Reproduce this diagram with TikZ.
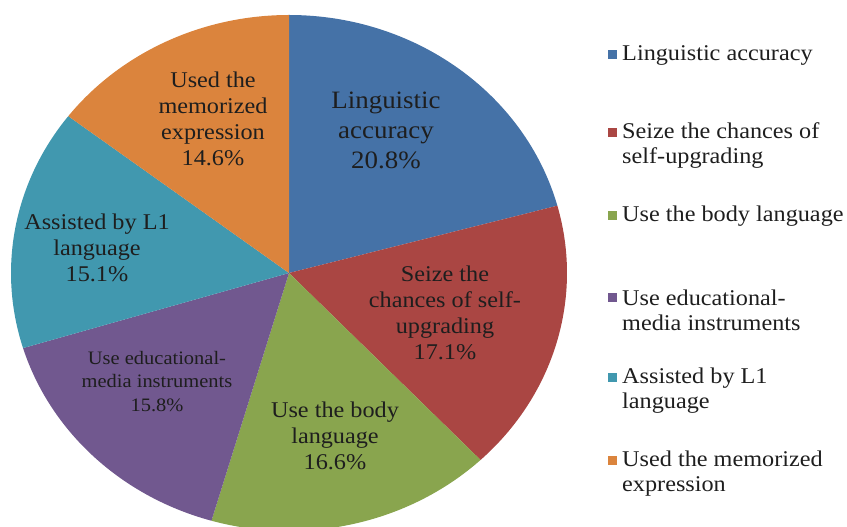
\documentclass[tikz,border=0pt]{standalone}
\usepackage{fontspec}
\setmainfont{Liberation Serif}
\definecolor{cblue}{HTML}{4572A7}
\definecolor{cred}{HTML}{AA4643}
\definecolor{cgreen}{HTML}{89A54E}
\definecolor{cpurple}{HTML}{71588F}
\definecolor{ccyan}{HTML}{4198AF}
\definecolor{corange}{HTML}{DB843D}
\definecolor{txt}{HTML}{1E1E1E}
\tikzset{
  slicelbl/.style={align=center, text=txt, inner sep=0pt, xscale=1.077,
    font=\fontsize{22.5}{26}\selectfont},
  legtxt/.style={align=left, text=txt, inner sep=0pt, anchor=west, xscale=1.077,
    font=\fontsize{22.5}{25}\selectfont},
  legsq/.style={minimum size=9pt, inner sep=0pt, draw=none}
}
\newcommand{\pieslice}[3]{%
  \fill[#1] (289pt,254pt) -- ++(#2:278pt and 258pt)
    arc[start angle=#2, end angle=#3, x radius=278pt, y radius=258pt] -- cycle;}
\begin{document}
\begin{tikzpicture}[x=1pt,y=1pt]
\useasboundingbox (0,0) rectangle (847,527);
\begin{scope}
\clip (0,0) rectangle (847,527);
\pieslice{cblue}{90}{15.12}
\pieslice{cred}{15.12}{-46.44}
\pieslice{cgreen}{-46.44}{-106.2}
\pieslice{cpurple}{-106.2}{-163.08}
\pieslice{ccyan}{-163.08}{-217.44}
\pieslice{corange}{-217.44}{-270}
\end{scope}
% slice labels
\node[slicelbl, font=\fontsize{25}{30}\selectfont] (lblue) at (386,397) {Linguistic\\accuracy\\20.8\%};
\node[slicelbl] (lred) at (445,214) {Seize the\\chances of self-\\upgrading\\17.1\%};
\node[slicelbl] (lgreen) at (335,91.5) {Use the body\\language\\16.6\%};
\node[slicelbl, font=\fontsize{19}{23.5}\selectfont] (lpurple) at (157,145.5) {Use educational-\\media instruments\\15.8\%};
\node[slicelbl] (lcyan) at (97,279) {Assisted by L1\\language\\15.1\%};
\node[slicelbl] (lorange) at (213,408) {Used the\\memorized\\expression\\14.6\%};
% legend
\node[legsq, fill=cblue] (s1) at (612,472) {};
\node[legsq, fill=cred] (s2) at (612,394) {};
\node[legsq, fill=cgreen] (s3) at (612,311) {};
\node[legsq, fill=cpurple] (s4) at (612,229) {};
\node[legsq, fill=ccyan] (s5) at (612,149) {};
\node[legsq, fill=corange] (s6) at (612,66) {};
\node[legtxt] (t1) at (622,472) {Linguistic accuracy};
\node[legtxt] (t2) at (622,381.5) {Seize the chances of\\self-upgrading};
\node[legtxt] (t3) at (622,311) {Use the body language};
\node[legtxt] (t4) at (622,217) {Use educational-\\media instruments};
\node[legtxt] (t5) at (622,136) {Assisted by L1\\language};
\node[legtxt] (t6) at (622,53) {Used the memorized\\expression};
\end{tikzpicture}
\end{document}
